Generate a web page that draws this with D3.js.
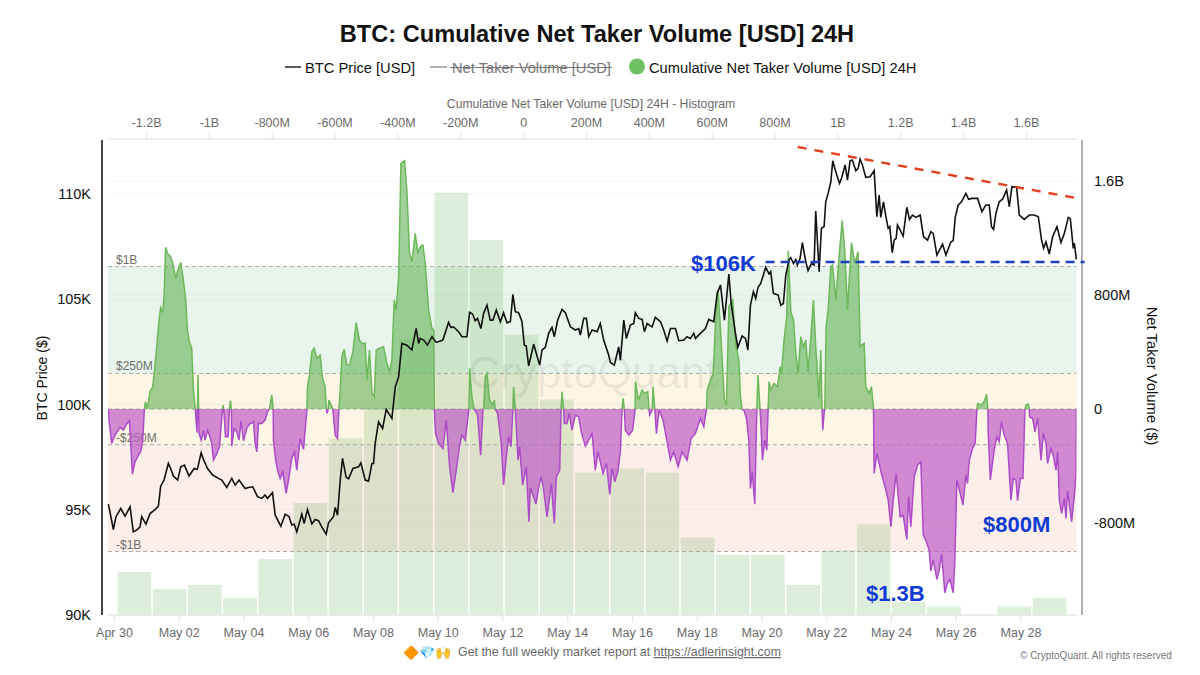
<!DOCTYPE html>
<html>

<head>
    <meta charset="utf-8">
    <title>BTC: Cumulative Net Taker Volume [USD] 24H</title>
    <script src="https://d3js.org/d3.v7.min.js"></script>
    <style>
        body { margin: 0; background: #fff; }
        svg { display: block; font-family: "Liberation Sans", Arial, sans-serif; }
        .axis path { display: none; }
        .axis line { stroke: #e3e3e3; }
    </style>
</head>

<body>
    <svg id="chart" width="1200" height="675"></svg>
    <script>
        // hours since Apr 30 00:00 UTC, BTC price in $K
        const priceSeries = [
            [-4.2,95.27],[-2.5,94.74],[-0.5,94.06],[1.5,94.67],[5,95.06],[8.2,94.7],[11.9,95.14],[14.3,93.95],[16.8,94.03],[19.3,94.19],[20.5,94.67],[23.7,94.32],
            [26.7,94.82],[30.4,95.01],[32.9,95.17],[34.6,96.12],[37.1,96.41],[40.3,97.2],[42,96.96],[44,96.6],[47.2,96.41],[49.5,97.04],[52.2,97.12],[55.6,96.6],
            [59.4,96.96],[61.8,96.92],[64.6,97.71],[66.3,97.39],[69.3,96.96],[73.2,96.65],[77.4,96.49],[79.9,96.41],[83.6,96.06],[87.3,96.49],[89.8,96.17],[92.7,96.41],
            [97.2,96.01],[99.7,96.06],[102.9,96.09],[106.3,95.62],[109.6,95.54],[112,95.7],[113.8,95.54],[117.5,95.81],[119.5,94.74],[123.7,94.22],[126.9,94.79],[129.8,94.67],
            [131.8,94.27],[133.5,94.32],[135.5,93.95],[139.2,94.79],[141,94.35],[143.4,95.01],[146.7,94.32],[149.1,94.54],[151.6,94.48],[154,94.19],[157.3,93.84],[159,94.38],
            [162.7,94.67],[164,95.11],[165.7,94.74],[167.7,96.41],[169.4,97.44],[172.1,96.54],[173.9,96.47],[177.1,96.96],[181.3,97.04],[183,97.23],[186.2,96.41],[188.7,96.36],
            [191.2,97.2],[192.4,97.2],[193.6,98.15],[196.1,99.18],[199.1,98.86],[201.8,99.77],[206,99.34],[208.5,100.84],[211,101.32],[213.4,102.9],[217.1,102.82],[220.8,102.59],
            [224,103.62],[225.8,102.9],[227,103.14],[229.5,103.06],[232.4,102.82],[235.7,103.22],[238.9,102.95],[243.8,103.06],[248,103.9],[249.8,103.66],[251.7,103.69],[255.4,103.46],
            [257.9,103.22],[261.6,103.22],[263.6,104.38],[265.8,104.3],[267.8,103.98],[269.5,104.09],[272,103.61],[274,104.33],[276.5,104.72],[278.9,104.01],[280.9,104.01],[283.4,104.49],
            [286.4,103.93],[288.8,104.36],[291.3,103.88],[293.8,103.93],[295.7,105.23],[297.5,104.41],[300,104.36],[302.4,103.93],[304.2,102.82],[305.6,102.78],[307.4,101.83],[311.1,102.87],
            [315.5,101.87],[317.3,102.59],[319.7,102.71],[322.2,103.38],[324.7,103.66],[326.4,103.22],[328.9,104.01],[332.1,104.52],[334.6,104.36],[338.3,103.69],[342,103.54],[344.5,103.61],
            [345.7,103.3],[348.2,104.09],[350.2,104.09],[351.9,103.22],[354.4,103.54],[358.1,103.46],[360.5,103.85],[363,103.06],[366.7,102.35],[368,102],[370.9,101.87],[374.1,102.74],
            [375.4,102.11],[377.9,104.01],[379.8,103.14],[382.8,103.77],[385.3,103.85],[386.5,104.36],[389,104.09],[391.5,104.04],[393.2,103.46],[395.2,103.85],[398.9,103.69],[401.3,104.14],
            [405.1,103.93],[407.5,103.54],[410,103.01],[412.5,103.61],[416.2,103.61],[418.7,103.03],[422.4,103.06],[424.8,103.22],[427.3,103.14],[429.8,103.38],[431,103.14],[434.7,103.38],
            [438.4,103.61],[440.9,104.04],[444.6,103.93],[447.1,105.28],[449.6,105.68],[452.5,104.01],[455.8,106.2],[457.5,104.8],[460.7,103.38],[462.4,102.71],[465.6,103.25],[468.1,103.14],
            [469.9,102.59],[471.8,104.72],[474,105.36],[475.7,105.04],[477.4,105.56],[479.4,105.75],[483.1,106.51],[485.6,106.2],[486.8,106.31],[488.8,105.28],[492.3,105.2],[494.3,104.72],
            [496.2,104.8],[498,106.15],[500.4,106.86],[501.7,106.97],[503.7,106.7],[505.4,106.89],[506.6,106.62],[508.6,106.94],[510.3,107.69],[512.8,106.78],[514.5,106.36],[517,106.7],
            [519,106.62],[520.2,109.19],[522.7,106.31],[524.4,108.37],[526.4,108.45],[527.6,109.63],[529.4,110.03],[531.4,110.58],[532.8,111.58],[534.3,111.22],[535.8,110.9],[537.8,110.5],
            [539.3,110.74],[542,111.38],[543.7,110.66],[545.7,111.58],[547.4,111.61],[549.9,111.11],[551.6,111.22],[553.1,111.65],[554.8,111.38],[557.3,110.79],[560.5,110.82],[563.5,111.11],
            [565.5,108.92],[567.2,109.95],[568.4,108.89],[570.4,109.63],[572.2,108.92],[573.9,108.37],[575.1,108.45],[576.9,107.21],[578.3,107.81],[579.8,107.89],[580.8,108.53],[585,108],
            [587.7,109.37],[589.7,108.79],[591.9,109],[594.4,108.89],[597.6,109],[600.1,107.97],[603.1,107.81],[605.5,108.21],[607.3,108.13],[610,107.1],[614.2,107.62],[616.7,107.1],
            [620.4,107.73],[622.1,107.78],[623.6,108.89],[625.8,109.48],[628.3,109.63],[631.5,110.03],[633.5,109.75],[636,109.79],[640.2,109.79],[643.4,109.16],[646.3,109.48],[648.8,109.48],
            [650.5,108.45],[652,108.32],[653.8,109.08],[656.2,109.63],[658.7,109.75],[661.7,110.19],[663.7,109.4],[665.6,110.35],[669.1,110.32],[671.1,109],[674.8,108.79],[678.5,109],
            [682.2,109],[685.2,108.92],[687.6,107.81],[689.1,107.42],[690.9,107.73],[693.3,107.15],[695.8,107.97],[699,108.45],[702,107.69],[704.5,108.13],[707.4,108.89],[708.9,108.84],
            [711.1,107.42],[711.9,107.66],[713.4,106.89]
        ]

        // hours since Apr 30 00:00 UTC, cumulative net taker volume in $M
        const volumeSeries = [
            [-4.2,0],[-3.7,-77],[-1.7,-241],[0.7,-183],[4.5,-129],[6.9,-148],[8.9,-112],[11.4,-82],[12.4,-241],[13.6,-456],[15.6,-370],[18.1,-323],[19.8,-300],[21.3,-218],[22.5,0],
            [23.3,52],[24.7,5],[26.7,122],[28.7,157],[29.7,239],[31.7,438],[33.4,625],[34.6,711],[36.1,676],[37.1,788],[38.3,1135],[39.6,1093],[41.6,1074],[43.3,1034],[45.8,917],[47,964],
            [49.5,1029],[51.4,905],[53.2,765],[54.4,555],[55.9,473],[57.6,426],[58.9,134],[60.3,0],[60.8,-77],[61.6,-166],[62.3,239],[63.1,-171],[64.6,-218],[66.3,-152],[67.5,-218],
            [69.3,-148],[70.7,-183],[72.5,-241],[73.7,-358],[75.7,-323],[78.2,-264],[79.4,-124],[80.4,0],[80.9,28],[81.6,-30],[82.6,-194],[84.6,-194],[85.6,0],[86.3,59],[87,0],[87.3,-260],
            [89,-136],[91,-159],[92.7,-218],[94.2,-82],[96,-222],[98.4,-136],[100.4,-105],[103.4,-89],[104.6,-241],[105.9,-300],[107.1,-101],[109.6,-101],[112,-77],[113.8,-19],[115.2,0],
            [117,99],[118,0],[118.2,-218],[119.7,-346],[121.2,-428],[123.2,-487],[125.1,-440],[127.6,-592],[129.6,-487],[131.8,-346],[133.8,-300],[135.5,-428],[138,-206],[140.5,-283],[143,0],
            [143.4,157],[144.7,227],[146.7,403],[148.4,426],[150.4,356],[152.8,379],[154.6,215],[156.5,157],[157.5,0],[158,-30],[158.8,0],[159.3,63],[161.5,17],[162.2,0],[164,-183],[165.7,-206],[166.7,0],
            [167.7,134],[168.9,367],[170.6,419],[172.6,309],[174.6,309],[177.1,403],[179.5,606],[182,484],[183.8,461],[186.2,461],[187.5,204],[189.4,414],[191.2,110],[192.9,87],[194.4,414],
            [196.4,426],[199.8,438],[202.3,321],[204.3,262],[206,344],[207.7,765],[209.2,695],[211,929],[212.7,1724],[215.4,1743],[217.1,1537],[219.1,1093],[220.8,1034],[223.3,1233],[225.3,1093],
            [227,1139],[229,1151],[230.7,1022],[233.2,695],[235.7,566],[237.1,555],[237.4,0],[238.4,-171],[240.6,-241],[243.8,-276],[246.3,-77],[248.8,-405],[251.2,-587],[253.7,-428],[256.2,-253],
            [257.9,-183],[260.4,-218],[262.1,-77],[263.1,0],[263.6,286],[265.3,87],[266.6,16],[267.1,0],[269.5,-42],[271.8,-323],[273.5,-7],[274,5],[275.2,227],[276.5,251],[278.4,63],[280.9,28],
            [281.9,63],[282.6,0],[284.4,-31],[287.1,-241],[288.8,-533],[290.8,-335],[292.5,-194],[294.3,-264],[295.7,0],[296.2,157],[297.5,0],[299.5,-358],[300.7,-264],[302.9,-533],[305.6,-405],
            [307.6,-791],[308.6,-550],[312.8,-667],[314.8,-550],[316.5,-475],[318,-533],[321,-756],[324.2,-522],[326.4,-802],[327.9,-475],[330.4,-428],[331.4,0],[332.1,122],[333.3,0],[333.8,-101],
            [335.8,-101],[337.5,-31],[339.5,-148],[342,-42],[344.5,-54],[346.4,-159],[349.4,-260],[351.9,-218],[354.4,-171],[356.8,-428],[358.8,-300],[362.5,-452],[365,-381],[367.5,-599],[369.2,-416],
            [371.2,-510],[373.6,-433],[375.4,-288],[376.6,0],[377.4,75],[378.3,0],[379.1,-148],[381.6,-183],[384.5,-148],[386.3,0],[386.5,192],[389,63],[391.5,134],[393.2,110],[395.7,122],[396.6,0],
            [397.1,-42],[398.9,-7],[399.6,157],[400.9,0],[402.1,-171],[404.1,-5],[407,-77],[412.5,-358],[414.9,-300],[418.2,-405],[421.1,-300],[424.8,-358],[427.8,-206],[431,-171],[434.7,-66],[437.2,-124],[439.2,0],
            [439.7,134],[442.6,215],[444.1,239],[445.9,601],[447.8,835],[449.6,555],[452.5,63],[454,28],[455.8,718],[458.7,765],[460.7,461],[463.2,344],[464.4,87],[465.6,0],[466.9,-7],[468.9,-66],
            [470.6,-218],[471.8,-557],[473.1,-440],[475,-667],[476.5,0],[477.4,239],[478.9,0],[479.4,-77],[480.7,-358],[482.4,-218],[483.9,-288],[484.9,0],[485.6,192],[486.8,134],[489.3,180],[491.8,157],
            [493.8,297],[494.8,251],[496.7,484],[498.7,648],[499.9,1111],[501.7,683],[503.7,625],[505.4,391],[507.1,251],[509.1,508],[511.1,438],[512.8,484],[514.5,262],[516.5,496],[518.5,765],[520.2,438],
            [522.7,75],[523.9,414],[524.9,0],[525.4,-148],[526.4,-31],[526.9,0],[527.9,578],[529.4,695],[531.4,999],[532.6,1011],[535.1,765],[537.5,1069],[539.8,1322],[541.7,1116],[543.7,695],[546.7,1167],
            [549.2,1022],[551.6,1104],[553.1,438],[556.1,461],[557.3,157],[559.8,110],[561.5,157],[563,0],[563.5,-452],[565.5,-311],[568.9,-452],[572.2,-569],[573.9,-639],[575.9,-826],[577.8,-627],
            [579.8,-452],[582.8,-756],[585,-744],[587.7,-915],[589,-615],[590.7,-826],[593.2,-475],[595.7,-393],[598.1,-370],[599.9,-884],[601.8,-919],[604.3,-990],[605.5,-1135],[607.3,-1060],[610,-1195],
            [611.7,-1130],[613.5,-1018],[615.9,-1289],[617.9,-1219],[619.6,-1195],[622.1,-1289],[623.3,-1071],[624.8,-498],[627.3,-592],[629.3,-674],[631.5,-463],[632.7,-522],[634,-358],[636.5,-276],
            [638.4,-241],[639.7,0],[640.2,40],[642.6,28],[645.1,52],[646.8,105],[647.8,0],[648.1,-171],[649.6,-498],[652.5,-288],[654.5,-194],[656.2,-229],[657.9,-89],[659.9,-183],[662.4,-241],[664.9,-639],
            [666.6,-487],[668.6,-498],[669.8,-643],[671.8,-487],[673.8,-487],[675.3,0],[676,28],[677.8,35],[678.5,0],[678.7,-54],[681,-66],[682.7,-159],[684.7,-66],[687.2,-358],[688.9,-171],[690.9,-241],
            [692.1,-381],[694.6,-276],[696.5,-335],[698.3,-428],[699.5,-300],[700.8,-639],[702.5,-732],[704.5,-627],[705.7,-767],[706.9,-573],[709.9,-791],[711.9,-604],[713.1,-463],[713.4,0]
        ]

        // histogram of the cumulative volume: lower bin edge in $M, count of hours
        const histEdges = [-1292, -1180, -1068, -956, -844, -732, -620, -508, -396, -284, -172, -60, 52, 164, 276, 388, 500, 612, 724, 836, 948, 1060, 1172, 1284, 1396, 1508, 1620]
        const histCounts = [10, 6, 7, 4, 13, 26, 41, 48, 64, 98, 87, 65, 50, 33, 34, 33, 18, 14, 14, 7, 15, 21, 3, 2, 0, 2, 4]
        const histBinWidth = 112

        const topTicks = [-1200, -1000, -800, -600, -400, -200, 0, 200, 400, 600, 800, 1000, 1200, 1400, 1600]
        const topTickLabels = ["-1.2B", "-1B", "-800M", "-600M", "-400M", "-200M", "0", "200M", "400M", "600M", "800M", "1B", "1.2B", "1.4B", "1.6B"]
        const priceTicks = [90, 95, 100, 105, 110]
        const volumeTicks = [-800, 0, 800, 1600]
        const volumeTickLabels = ["-800M", "0", "800M", "1.6B"]
        const dateTicks = ["2025-04-30", "2025-05-02", "2025-05-04", "2025-05-06", "2025-05-08", "2025-05-10", "2025-05-12", "2025-05-14", "2025-05-16", "2025-05-18", "2025-05-20", "2025-05-22", "2025-05-24", "2025-05-26", "2025-05-28"]

        // threshold levels in $M and their labels
        const bandLevels = [1000, 250, 0, -250, -1000]
        const bandLabels = ["$1B", "$250M", "", "-$250M", "-$1B"]
        const bandColors = ["#e9f5ec", "#fdf6e4", "#fdf6e4", "#fdeeea"]

        const baseTime = Date.UTC(2025, 3, 30)
        const hourToDate = h => new Date(baseTime + h * 3600000)

        const plotLeft = 108, plotRight = 1076.5, plotTop = 140, plotBottom = 615

        const svg = d3.select("#chart")

        const xTime = d3.scaleUtc()
            .domain([hourToDate(-4.45), hourToDate(713.5)])
            .range([plotLeft, plotRight])
        const xHist = d3.scaleLinear().domain([-1321, 1761]).range([plotLeft, plotRight])
        const yPrice = d3.scaleLinear().domain([90, 112.565]).range([plotBottom, plotTop])
        const yVolume = d3.scaleLinear().domain([-1445, 1888]).range([plotBottom, plotTop])
        const yCount = d3.scaleLinear().domain([0, 110.2]).range([plotBottom, plotTop])

        svg.append("defs").append("clipPath").attr("id", "pos").append("rect")
            .attr("x", plotLeft).attr("y", plotTop).attr("width", plotRight - plotLeft).attr("height", yVolume(0) - plotTop)
        svg.select("defs").append("clipPath").attr("id", "neg").append("rect")
            .attr("x", plotLeft).attr("y", yVolume(0)).attr("width", plotRight - plotLeft).attr("height", plotBottom - yVolume(0))

        // threshold bands
        svg.append("g").selectAll("rect").data(bandColors).enter().append("rect")
            .attr("x", plotLeft)
            .attr("width", plotRight - plotLeft)
            .attr("y", (d, i) => yVolume(bandLevels[i]))
            .attr("height", (d, i) => yVolume(bandLevels[i + 1]) - yVolume(bandLevels[i]))
            .attr("fill", d => d)

        // histogram bars
        svg.append("g").selectAll("rect").data(histCounts).enter().append("rect")
            .attr("x", (d, i) => xHist(histEdges[i]) + 0.5)
            .attr("width", xHist(histBinWidth) - xHist(0) - 1.5)
            .attr("y", d => yCount(d))
            .attr("height", d => plotBottom - yCount(d))
            .attr("fill", "rgba(90,170,80,0.2)")

        // gridlines
        const grid = svg.append("g").attr("stroke", "#000").attr("stroke-opacity", 0.035)
        priceTicks.forEach(t => grid.append("line").attr("x1", plotLeft).attr("x2", plotRight).attr("y1", yPrice(t)).attr("y2", yPrice(t)))
        volumeTicks.forEach(t => grid.append("line").attr("x1", plotLeft).attr("x2", plotRight).attr("y1", yVolume(t)).attr("y2", yVolume(t)))

        svg.append("text")
            .attr("x", 593).attr("y", 388)
            .attr("text-anchor", "middle")
            .attr("font-size", 44)
            .attr("fill", "#000").attr("fill-opacity", 0.08)
            .text("CryptoQuant")

        // dashed threshold lines and labels
        const levels = svg.append("g")
        bandLevels.forEach((lvl, i) => {
            levels.append("line")
                .attr("x1", plotLeft).attr("x2", plotRight)
                .attr("y1", yVolume(lvl)).attr("y2", yVolume(lvl))
                .attr("stroke", "#a9a9a9").attr("stroke-width", 1).attr("stroke-dasharray", "4,3")
            levels.append("text")
                .attr("x", 116).attr("y", yVolume(lvl) - 3)
                .attr("font-size", 12).attr("fill", "#6f6f6f")
                .text(bandLabels[i])
        })

        // cumulative volume, green above zero and purple below
        const area = d3.area()
            .x(d => xTime(hourToDate(d[0])))
            .y0(yVolume(0))
            .y1(d => yVolume(d[1]))
        const volumeLine = d3.line()
            .x(d => xTime(hourToDate(d[0])))
            .y(d => yVolume(d[1]))

        svg.append("path").attr("clip-path", "url(#pos)").attr("d", area(volumeSeries))
            .attr("fill", "#62b356").attr("fill-opacity", 0.6)
        svg.append("path").attr("clip-path", "url(#pos)").attr("d", volumeLine(volumeSeries))
            .attr("fill", "none").attr("stroke", "#6cb85a").attr("stroke-width", 1.5)
        svg.append("path").attr("clip-path", "url(#neg)").attr("d", area(volumeSeries))
            .attr("fill", "#bd5cc8").attr("fill-opacity", 0.7)
        svg.append("path").attr("clip-path", "url(#neg)").attr("d", volumeLine(volumeSeries))
            .attr("fill", "none").attr("stroke", "#ad4cc8").attr("stroke-width", 1.5)

        // price
        const priceLine = d3.line()
            .x(d => xTime(hourToDate(d[0])))
            .y(d => yPrice(d[1]))
        svg.append("path")
            .attr("d", priceLine(priceSeries))
            .attr("fill", "none").attr("stroke", "#111").attr("stroke-width", 1.6)

        // axes
        const styleAxis = (g, size, color) => {
            g.attr("class", "axis")
            g.selectAll("text").attr("font-size", size).attr("fill", color).attr("font-family", "inherit")
        }
        const topAxis = svg.append("g").attr("transform", `translate(0,${plotTop - 1})`)
            .call(d3.axisTop(xHist).tickValues(topTicks).tickFormat((d, i) => topTickLabels[i]).tickSize(7).tickPadding(5))
        styleAxis(topAxis, 12.5, "#6a6a6a")

        const bottomAxis = svg.append("g").attr("transform", `translate(0,${plotBottom})`)
            .call(d3.axisBottom(xTime).tickValues(dateTicks.map(d => new Date(d))).tickFormat(d3.utcFormat("%b %d")).tickSize(7).tickPadding(6))
        styleAxis(bottomAxis, 12.5, "#6a6a6a")

        const leftAxis = svg.append("g").attr("transform", "translate(102,0)")
            .call(d3.axisLeft(yPrice).tickValues(priceTicks).tickFormat(d => d + "K").tickSize(0).tickPadding(11))
        styleAxis(leftAxis, 14.5, "#111")

        const rightAxis = svg.append("g").attr("transform", "translate(1082,0)")
            .call(d3.axisRight(yVolume).tickValues(volumeTicks).tickFormat((d, i) => volumeTickLabels[i]).tickSize(0).tickPadding(12))
        styleAxis(rightAxis, 14.5, "#111")

        svg.append("line").attr("x1", plotLeft).attr("x2", plotRight).attr("y1", plotTop - 1).attr("y2", plotTop - 1).attr("stroke", "#e6e6e6").attr("stroke-width", 1.5)
        svg.append("line").attr("x1", plotLeft).attr("x2", plotRight).attr("y1", plotBottom).attr("y2", plotBottom).attr("stroke", "#e6e6e6").attr("stroke-width", 1.5)
        svg.append("line").attr("x1", 102).attr("x2", 102).attr("y1", plotTop).attr("y2", plotBottom).attr("stroke", "#444").attr("stroke-width", 2)
        svg.append("line").attr("x1", 1082).attr("x2", 1082).attr("y1", plotTop).attr("y2", plotBottom).attr("stroke", "#999").attr("stroke-width", 1.5)

        // hand drawn annotations
        const resistance = [[506.8, 112.23], [713, 109.81]]
        const support = [[483, 106.77], [719.5, 106.77]]
        const annotation = (pts, color, dash) => svg.append("line")
            .attr("x1", xTime(hourToDate(pts[0][0]))).attr("y1", yPrice(pts[0][1]))
            .attr("x2", xTime(hourToDate(pts[1][0]))).attr("y2", yPrice(pts[1][1]))
            .attr("stroke", color).attr("stroke-width", 2.4).attr("stroke-dasharray", dash)
        annotation(resistance, "#e2401f", "9,8")
        annotation(support, "#1c3fbd", "9,6")

        const callout = (x, y, s) => svg.append("text")
            .attr("x", x).attr("y", y)
            .attr("font-size", 22).attr("font-weight", 700).attr("fill", "#0f3bd4")
            .text(s)
        callout(691, 271, "$106K")
        callout(983, 532, "$800M")
        callout(866, 601, "$1.3B")

        // titles
        svg.append("text").attr("x", 597).attr("y", 42)
            .attr("text-anchor", "middle").attr("font-size", 23.6).attr("font-weight", 700).attr("fill", "#111")
            .text("BTC: Cumulative Net Taker Volume [USD] 24H")
        svg.append("text").attr("x", 591).attr("y", 108)
            .attr("text-anchor", "middle").attr("font-size", 12.2).attr("fill", "#6a6a6a")
            .text("Cumulative Net Taker Volume [USD] 24H - Histogram")
        svg.append("text").attr("transform", "translate(47,378) rotate(-90)")
            .attr("text-anchor", "middle").attr("font-size", 14).attr("fill", "#111")
            .text("BTC Price ($)")
        svg.append("text").attr("transform", "translate(1147,376) rotate(90)")
            .attr("text-anchor", "middle").attr("font-size", 14.8).attr("fill", "#111")
            .text("Net Taker Volume ($)")

        // legend
        const legend = svg.append("g").attr("font-size", 14.7)
        legend.append("line").attr("x1", 285).attr("x2", 301).attr("y1", 67).attr("y2", 67).attr("stroke", "#222").attr("stroke-width", 1.5)
        legend.append("text").attr("x", 305).attr("y", 72.5).attr("fill", "#111").text("BTC Price [USD]")
        legend.append("line").attr("x1", 430).attr("x2", 447).attr("y1", 67).attr("y2", 67).attr("stroke", "#999").attr("stroke-width", 1.5)
        legend.append("text").attr("x", 452).attr("y", 72.5).attr("fill", "#777").text("Net Taker Volume [USD]")
        legend.append("line").attr("x1", 450).attr("x2", 612).attr("y1", 67.5).attr("y2", 67.5).attr("stroke", "#777").attr("stroke-width", 1)
        legend.append("circle").attr("cx", 637).attr("cy", 66.5).attr("r", 8).attr("fill", "#6cc25e")
        legend.append("text").attr("x", 649).attr("y", 72.5).attr("fill", "#111").text("Cumulative Net Taker Volume [USD] 24H")

        // footer
        svg.append("text").attr("x", 403).attr("y", 657).attr("font-size", 13).text("🔶💎🙌")
        const footer = svg.append("text").attr("x", 458).attr("y", 656).attr("font-size", 12.4).attr("fill", "#6a6a6a")
        footer.append("tspan").text("Get the full weekly market report at ")
        footer.append("tspan").attr("text-decoration", "underline").text("https://adlerinsight.com")
        svg.append("text").attr("x", 1020).attr("y", 659).attr("font-size", 10).attr("fill", "#777")
            .text("© CryptoQuant. All rights reserved")
    </script>
</body>

</html>
